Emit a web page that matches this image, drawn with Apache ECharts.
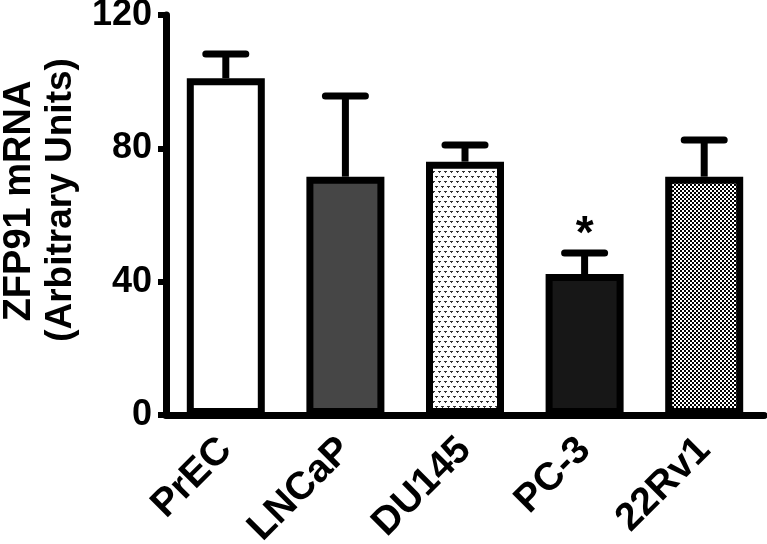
<!DOCTYPE html>
<html>
<head>
<meta charset="utf-8">
<script src="https://cdn.jsdelivr.net/npm/echarts@6/dist/echarts.min.js"></script>
<style>
  html, body { margin: 0; padding: 0; background: #fff; }
  #chart { width: 767px; height: 544px; }
</style>
</head>
<body>
<div id="chart"></div>
<script>
// data
const cellLines = ['PrEC', 'LNCaP', 'DU145', 'PC-3', '22Rv1']
const meanValues = [101, 71.5, 76, 42.3, 71.5]
const errorUpper = [108.3, 95.7, 81, 48.6, 82.5]
const sigMarks = ['', '', '', '*', '']
const yTicks = [0, 40, 80, 120]

const FONT = '"Liberation Sans", Arial, sans-serif'

// fill patterns for the textured bars
function dotPattern () {
  const c = document.createElement('canvas')
  c.width = 6; c.height = 10
  const ctx = c.getContext('2d')
  ctx.fillStyle = '#fff'
  ctx.fillRect(0, 0, 6, 10)
  ctx.fillStyle = '#333'
  ctx.fillRect(0, 1, 3, 1); ctx.fillRect(1, 2, 1, 1)
  ctx.fillRect(3, 6, 3, 1); ctx.fillRect(4, 7, 1, 1)
  return c
}
function checkerPattern () {
  const c = document.createElement('canvas')
  c.width = 4; c.height = 4
  const ctx = c.getContext('2d')
  ctx.fillStyle = '#000'
  ctx.fillRect(0, 0, 4, 4)
  ctx.fillStyle = '#fff'
  ctx.fillRect(0, 0, 2, 2)
  ctx.fillRect(2, 2, 2, 2)
  return c
}

const barFills = [
  '#ffffff',
  '#464646',
  { image: dotPattern(), repeat: 'repeat' },
  '#171717',
  { image: checkerPattern(), repeat: 'repeat' }
]

const chart = echarts.init(document.getElementById('chart'))

const option = {
  animation: false,
  grid: { left: 166, right: 3, top: 15, bottom: 129, outerBoundsMode: 'none' },
  xAxis: {
    type: 'category',
    data: cellLines,
    axisLine: { lineStyle: { color: '#000', width: 7 } },
    axisTick: { alignWithLabel: true, length: 8, lineStyle: { color: '#000', width: 6 } },
    axisLabel: {
      rotate: 45, margin: 29, color: '#000',
      fontFamily: FONT, fontWeight: 'bold', fontSize: 39
    }
  },
  yAxis: {
    type: 'value',
    min: 0, max: 120, interval: 40,
    splitLine: { show: false },
    axisLine: { show: true, lineStyle: { color: '#000', width: 7 } },
    axisTick: { show: true, length: 8, lineStyle: { color: '#000', width: 6 } },
    axisLabel: {
      margin: 14, color: '#000',
      fontFamily: FONT, fontWeight: 'bold', fontSize: 36,
      formatter: v => yTicks.includes(v) ? String(v) : ''
    }
  },
  graphic: [
    {
      type: 'text', x: 20, y: 201, rotation: Math.PI / 2,
      style: { text: 'ZFP91 mRNA', font: 'bold 38px ' + FONT, fill: '#000', align: 'center', verticalAlign: 'middle' }
    },
    {
      type: 'text', x: 61, y: 200, rotation: Math.PI / 2,
      style: { text: '(Arbitrary Units)', font: 'bold 37px ' + FONT, fill: '#000', align: 'center', verticalAlign: 'middle' }
    }
  ],
  series: [
    {
      type: 'custom',
      z: 1,
      data: cellLines.map((c, i) => [i, meanValues[i], errorUpper[i]]),
      renderItem: function (params, api) {
        const base = api.coord([api.value(0), api.value(1)])
        const top = api.coord([api.value(0), api.value(2)])
        const half = 20
        return {
          type: 'group',
          children: [
            { type: 'line', shape: { x1: base[0], y1: base[1], x2: top[0], y2: top[1] }, style: { stroke: '#000', lineWidth: 7 } },
            { type: 'line', shape: { x1: top[0] - half, y1: top[1], x2: top[0] + half, y2: top[1] }, style: { stroke: '#000', lineWidth: 7, lineCap: 'round' } }
          ]
        }
      }
    },
    {
      type: 'bar',
      z: 2,
      barWidth: 78,
      data: meanValues.map((v, i) => ({
        value: v,
        itemStyle: { color: barFills[i], borderColor: '#000', borderWidth: 7 }
      }))
    },
    {
      type: 'custom',
      z: 3,
      data: cellLines.map((c, i) => [i, errorUpper[i]]),
      renderItem: function (params, api) {
        const mark = sigMarks[params.dataIndex]
        if (!mark) return null
        const p = api.coord([api.value(0), api.value(1)])
        return {
          type: 'text',
          x: p[0], y: p[1] + 5,
          style: { text: mark, font: 'bold 46px ' + FONT, fill: '#000', align: 'center', verticalAlign: 'bottom' }
        }
      }
    }
  ]
}

chart.setOption(option)
</script>
</body>
</html>
